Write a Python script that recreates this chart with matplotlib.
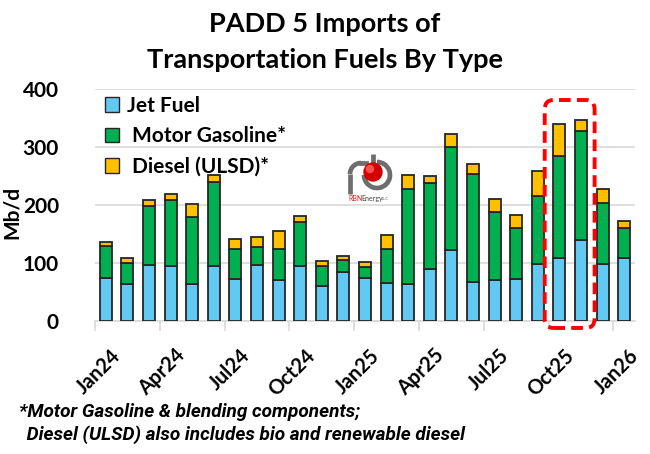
import matplotlib
matplotlib.use("Agg")
import matplotlib.pyplot as plt
import numpy as np
from matplotlib.patches import FancyBboxPatch, Arc, Ellipse
from matplotlib.lines import Line2D

months = ["Jan24","Feb24","Mar24","Apr24","May24","Jun24","Jul24","Aug24","Sep24","Oct24","Nov24","Dec24",
          "Jan25","Feb25","Mar25","Apr25","May25","Jun25","Jul25","Aug25","Sep25","Oct25","Nov25","Dec25","Jan26"]
jet = [74, 63, 96, 95, 63, 95, 72, 96, 70, 95, 60, 85,
       74, 66, 64, 89, 122, 68, 71, 73, 98, 109, 139, 98, 109]
gas = [55, 37, 103, 114, 117, 145, 52, 32, 54, 75, 35, 20,
       19, 58, 163, 149, 178, 186, 117, 87, 118, 176, 189, 105, 51]
diesel = [8, 8, 9, 10, 21, 12, 17, 16, 32, 11, 9, 7,
          9, 25, 24, 12, 22, 17, 23, 23, 42, 55, 19, 25, 12]
tick_labels = ["Jan24","Apr24","Jul24","Oct24","Jan25","Apr25","Jul25","Oct25","Jan26"]

W, H = 650, 454
fig = plt.figure(figsize=(6.5, 4.54), dpi=100)
plt.rcParams['font.family'] = ['Lato', 'DejaVu Sans']
ax = fig.add_axes([95/W, 1-321/H, (635-95)/W, (321-89)/H])

x = np.arange(len(months))
bw = 0.56
ec = "#262626"
c_jet, c_gas, c_dsl = "#62CAF2", "#00B050", "#FFC000"
jet_a, gas_a, dsl_a = np.array(jet), np.array(gas), np.array(diesel)
ax.bar(x, jet_a, bw, color=c_jet, edgecolor=ec, linewidth=1.3, label="Jet Fuel", zorder=3)
ax.bar(x, gas_a, bw, bottom=jet_a, color=c_gas, edgecolor=ec, linewidth=1.3, label=" Motor Gasoline*", zorder=3)
ax.bar(x, dsl_a, bw, bottom=jet_a+gas_a, color=c_dsl, edgecolor=ec, linewidth=1.3, label=" Diesel (ULSD)*", zorder=3)

ax.set_xlim(-0.5, len(months)-0.5)
ax.set_ylim(0, 400)
ax.set_yticks([0, 100, 200, 300, 400])
ax.yaxis.grid(True, color="#D9D9D9", linewidth=1.2, zorder=0)
ax.set_axisbelow(True)
for s in ["left", "right", "top"]:
    ax.spines[s].set_visible(False)
ax.spines["bottom"].set_color("#D9D9D9")
ax.spines["bottom"].set_linewidth(1.2)
ax.tick_params(axis="y", length=0, labelsize=15, pad=26)
for lab in ax.get_yticklabels():
    lab.set_fontweight("bold")

# major ticks at category boundaries, labels centred on categories
ax.set_xticks(np.arange(-0.5, len(months), 3))
ax.set_xticklabels([])
ax.tick_params(axis="x", which="major", length=7, color="#D9D9D9", width=1.2)
lab_pos = [months.index(m) for m in tick_labels]
for p, m in zip(lab_pos, tick_labels):
    ax.text(p + 0.2, -42, m, rotation=45, ha="right", va="top", fontsize=14.5,
            fontweight="bold", transform=ax.transData, rotation_mode="anchor")

ax.set_ylabel("Mb/d", fontsize=15, fontweight="bold")
ax.yaxis.set_label_coords(-0.135, 0.466)

leg = ax.legend(loc="upper left", bbox_to_anchor=(-0.005, 1.025), frameon=False,
                prop={"weight": "bold", "size": 15}, handlelength=0.7, handleheight=0.7,
                handletextpad=0.35, labelspacing=0.5, borderaxespad=0.2)
for h in leg.legend_handles:
    h.set_edgecolor(ec)
    h.set_linewidth(1.0)

# red dashed highlight box around Oct25-Nov25
box = FancyBboxPatch((20.32, -12), 22.63-20.32, 393, boxstyle="round,pad=0,rounding_size=0.4",
                     mutation_aspect=40, fill=False, edgecolor="#FF0000", linewidth=2.8,
                     linestyle=(0, (3, 1.6)), clip_on=False, zorder=5)
ax.add_patch(box)

# title
fig.text(0.5, 1-24/H, "PADD 5 Imports of", ha="center", va="center", fontsize=19.5, fontweight="bold")
fig.text(0.5, 1-60/H, "Transportation Fuels By Type", ha="center", va="center", fontsize=19.5, fontweight="bold")

# footnote
fn_font = ["Roboto", "DejaVu Sans"]
fig.text(19/W, 1-412/H, "*Motor Gasoline & blending components;", ha="left", va="center",
         fontsize=13.7, fontweight="bold", style="italic", family=fn_font)
fig.text(22/W, 1-435/H, " Diesel (ULSD) also includes bio and renewable diesel", ha="left", va="center",
         fontsize=13.7, fontweight="bold", style="italic", family=fn_font)

# RBN Energy logo (approximation)
def px(xp, yp):
    return (xp / W, 1 - yp / H)
tf = fig.transFigure
gray = "#6E6E6E"
lw = 3.4
fig.add_artist(Line2D([350/W, 350/W], [1-194/H, 1-174/H], color=gray, lw=lw, transform=tf, solid_capstyle="butt"))
fig.add_artist(Arc(px(361,174), 22/W, 22/H, theta1=90, theta2=180, color=gray, lw=lw, transform=tf))
fig.add_artist(Line2D([361/W, 366/W], [1-163/H, 1-163/H], color=gray, lw=lw, transform=tf))
fig.add_artist(Line2D([373/W, 373/W], [1-154/H, 1-176/H], color=gray, lw=lw, transform=tf, solid_capstyle="butt"))
fig.add_artist(Arc(px(377,175), 26/W, 26/H, theta1=-180, theta2=90, color=gray, lw=lw, transform=tf))
fig.add_artist(Ellipse(px(373,172), 18/W, 18/H, color="#D40000", transform=tf, zorder=6))
fig.add_artist(Ellipse(px(370,169), 7/W, 7/H, color="#FF5050", transform=tf, zorder=7))
fig.text(348/W, 1-198/H, "RBN", color="#D42020", fontsize=5, ha="left", va="center")
fig.text(361/W, 1-198/H, "Energy", color="#444444", fontsize=5, ha="left", va="center")
fig.text(382/W, 1-198.5/H, "LLC", color="#666666", fontsize=3, ha="left", va="center")

fig.savefig("out.png", dpi=100)
